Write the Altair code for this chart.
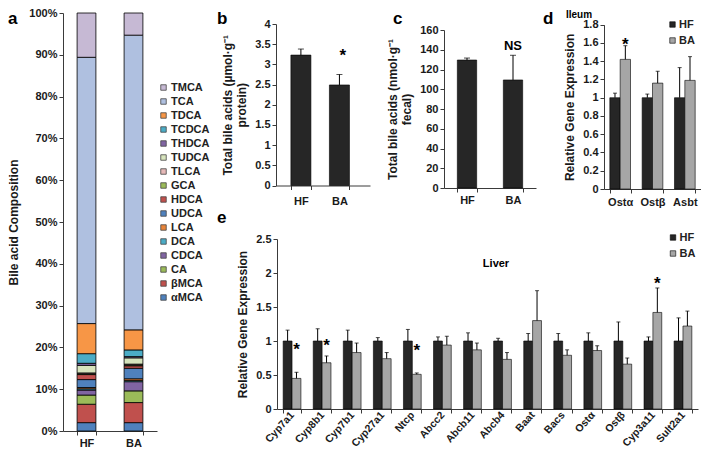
import altair as alt
import pandas as pd

FONT = "Liberation Sans"

# ---------------- data ----------------
diets = ["HF", "BA"]

# panel a: bile acid composition (%), stacked bottom -> top
acids = ["αMCA", "βMCA", "CA", "CDCA", "DCA", "LCA", "UDCA", "HDCA",
         "GCA", "TLCA", "TUDCA", "THDCA", "TCDCA", "TDCA", "TCA", "TMCA"]
acid_colors = ["#4F81BD", "#C0504D", "#9BBB59", "#8064A2", "#4BACC6", "#E8843A",
               "#4F81BD", "#C0504D", "#9BBB59", "#E6B9B8", "#D7E4BD", "#8064A2",
               "#4BACC6", "#F79646", "#AFC0E0", "#C6B9D4"]
hf_comp = [2.0, 4.4, 2.2, 1.2, 0.3, 0.3, 1.9, 1.2, 0.2, 0.2, 1.8, 0.5, 2.3, 7.2, 63.7, 10.6]
ba_comp = [2.0, 4.8, 2.8, 2.2, 0.3, 0.4, 2.5, 0.6, 0.2, 0.2, 1.5, 0.3, 1.6, 4.8, 70.5, 5.3]

# panel b: liver total bile acids
tba_liver = [3.23, 2.49]
tba_liver_err = [0.15, 0.26]
# panel c: fecal total bile acids
tba_fecal = [129.6, 109.4]
tba_fecal_err = [2.0, 25.0]

# panel d: ileum gene expression
ileum_genes = ["Ostα", "Ostβ", "Asbt"]
ileum_hf = [1.0, 1.0, 1.0]
ileum_hf_err = [0.05, 0.04, 0.33]
ileum_ba = [1.42, 1.16, 1.19]
ileum_ba_err = [0.15, 0.13, 0.26]

# panel e: liver gene expression
liver_genes = ["Cyp7a1", "Cyp8b1", "Cyp7b1", "Cyp27a1", "Ntcp", "Abcc2", "Abcb11",
               "Abcb4", "Baat", "Bacs", "Ostα", "Ostβ", "Cyp3a11", "Sult2a1"]
liver_hf = [1.0, 1.0, 1.0, 1.0, 1.0, 1.0, 1.0, 1.0, 1.0, 1.0, 1.0, 1.0, 1.0, 1.0]
liver_hf_err = [0.16, 0.18, 0.16, 0.05, 0.17, 0.06, 0.12, 0.04, 0.11, 0.11, 0.12, 0.28, 0.06, 0.34]
liver_ba = [0.45, 0.68, 0.83, 0.74, 0.51, 0.94, 0.87, 0.73, 1.30, 0.79, 0.86, 0.66, 1.42, 1.22]
liver_ba_err = [0.09, 0.10, 0.14, 0.09, 0.02, 0.13, 0.10, 0.10, 0.44, 0.08, 0.07, 0.09, 0.36, 0.22]

# significance marks
b_star = ["BA", "*", 3.31]
c_star = ["BA", "NS", 143.8]
d_star = ["Ostα", "*", 1.62]
e_star_genes = ["Cyp7a1", "Cyp8b1", "Ntcp", "Cyp3a11"]
e_star_y = [0.93, 0.99, 0.915, 1.90]

W, H = 693, 442
HF_COL, BA_COL = "#262626", "#A6A6A6"


def yaxis(x0, values, title, fmt="~g", **kw):
    return alt.Axis(orient="left", offset=-x0, values=values, format=fmt, title=title, **kw)


def xaxis(ybase, **kw):
    return alt.Axis(orient="bottom", offset=ybase - H, title=None, labelAngle=0,
                    tickBand="extent", **kw)


# ---------------- panel a ----------------
rows = []
for d, vals in zip(diets, [hf_comp, ba_comp]):
    for i, (a, v) in enumerate(zip(acids, vals)):
        rows.append({"diet": d, "acid": a, "idx": i, "pct": v})
dfa = pd.DataFrame(rows)
xa = alt.Scale(domain=diets, range=[55, 149], paddingInner=0.6, paddingOuter=0.3)
ya = alt.Scale(domain=[0, 100], range=[423, 5], nice=False, zero=True)
panel_a = alt.Chart(dfa).mark_bar(stroke="black", strokeWidth=0.8).encode(
    x=alt.X("diet:N", sort=diets, scale=xa, axis=xaxis(423, labelPadding=2)),
    y=alt.Y("pct:Q", stack="zero", scale=ya,
            axis=yaxis(55, list(range(0, 101, 10)), "Bile acid Composition",
                       labelExpr="datum.value + '%'", titlePadding=8)),
    color=alt.Color("acid:N", scale=alt.Scale(domain=acids[::-1], range=acid_colors[::-1]),
                    legend=alt.Legend(orient="none", legendX=150, legendY=74, title=None,
                                      symbolType="square", symbolSize=30,
                                      symbolStrokeColor="#444", symbolStrokeWidth=0.8,
                                      labelFont=FONT, labelFontSize=11, labelFontWeight="bold",
                                      labelColor="#222", rowPadding=2, labelOffset=2, padding=0)),
    order=alt.Order("idx:Q", sort="ascending"),
)


# ---------------- simple bar panels (b, c) ----------------
def simple_panel(vals, errs, xr, yr, ydom, yvals, title, star, fmt="~g", align=0.5,
                 pi=0.58, po=0.29, lab_pad=5, star_size=17):
    df = pd.DataFrame({"g": diets, "v": vals, "top": [v + e for v, e in zip(vals, errs)]})
    xs = alt.Scale(domain=diets, range=xr, paddingInner=pi, paddingOuter=po, align=align)
    ys = alt.Scale(domain=ydom, range=yr, nice=False)
    base = alt.Chart(df)
    bars = base.mark_bar(color=HF_COL, stroke="black", strokeWidth=0.6).encode(
        x=alt.X("g:N", sort=diets, scale=xs, axis=xaxis(yr[0], labelPadding=lab_pad)),
        y=alt.Y("v:Q", scale=ys, axis=yaxis(xr[0], yvals, title, fmt=fmt, titlePadding=6)),
    )
    rule = base.mark_rule(color="black", strokeWidth=1).encode(
        x=alt.X("g:N", sort=diets, scale=xs, axis=None),
        y=alt.Y("v:Q", scale=ys, axis=None), y2="top:Q")
    cap = base.mark_tick(color="black", thickness=1, size=6).encode(
        x=alt.X("g:N", sort=diets, scale=xs, axis=None),
        y=alt.Y("top:Q", scale=ys, axis=None))
    sdf = pd.DataFrame({"g": [star[0]], "t": [star[1]], "y": [star[2]]})
    txt = alt.Chart(sdf).mark_text(font=FONT, fontSize=star_size, fontWeight="bold",
                                   baseline="middle", dy=4 if star[1] == "*" else 0,
                                   color="black").encode(
        x=alt.X("g:N", sort=diets, scale=xs, axis=None),
        y=alt.Y("y:Q", scale=ys, axis=None), text="t:N")
    return [bars, rule, cap, txt]


panel_b = simple_panel(tba_liver, tba_liver_err, [268, 362], [177.5, 16], [0, 4],
                       [0, 0.5, 1, 1.5, 2, 2.5, 3, 3.5, 4],
                       ["Total bile acids (µmol·g⁻¹", "protein)"], b_star,
                       align=0.42, pi=0.48, po=0.46, lab_pad=6)
panel_c = simple_panel(tba_fecal, tba_fecal_err, [436, 528], [180, 22], [0, 160],
                       list(range(0, 161, 20)),
                       ["Total bile acids (nmol·g⁻¹", "fecal)"], c_star, fmt="d",
                       pi=0.58, po=0.29, lab_pad=2, star_size=13)


# ---------------- grouped panels (d, e) ----------------
def grouped_panel(genes, hf, hf_err, ba, ba_err, xr, yr, ydom, yvals, pi, lab_axis,
                  stars_g, stars_y, legend_xy):
    rows = []
    for g, a, ae, b, be in zip(genes, hf, hf_err, ba, ba_err):
        rows.append({"gene": g, "grp": "HF", "v": a, "top": a + ae})
        rows.append({"gene": g, "grp": "BA", "v": b, "top": b + be})
    df = pd.DataFrame(rows)
    xs = alt.Scale(domain=genes, range=xr, paddingInner=pi, paddingOuter=pi / 2)
    ys = alt.Scale(domain=ydom, range=yr, nice=False)
    os_ = alt.Scale(domain=diets)
    xo = alt.XOffset("grp:N", sort=diets, scale=os_)
    base = alt.Chart(df)
    bars = base.mark_bar(stroke="black", strokeWidth=0.6).encode(
        x=alt.X("gene:N", sort=genes, scale=xs, axis=lab_axis),
        xOffset=xo,
        y=alt.Y("v:Q", scale=ys, axis=yaxis(xr[0], yvals, "Relative Gene Expression",
                                           titlePadding=6)),
        color=alt.Color("grp:N", scale=alt.Scale(domain=diets, range=[HF_COL, BA_COL]),
                        legend=alt.Legend(orient="none", legendX=legend_xy[0],
                                          legendY=legend_xy[1], title=None,
                                          symbolType="square", symbolSize=30,
                                          symbolStrokeColor="black", symbolStrokeWidth=0.6,
                                          labelFont=FONT, labelFontSize=11,
                                          labelFontWeight="bold", labelColor="#222",
                                          rowPadding=legend_xy[2], labelOffset=1, padding=0)),
    )
    rule = base.mark_rule(color="black", strokeWidth=1).encode(
        x=alt.X("gene:N", sort=genes, scale=xs, axis=None), xOffset=xo,
        y=alt.Y("v:Q", scale=ys, axis=None), y2="top:Q")
    cap = base.mark_tick(color="black", thickness=1, size=4).encode(
        x=alt.X("gene:N", sort=genes, scale=xs, axis=None), xOffset=xo,
        y=alt.Y("top:Q", scale=ys, axis=None))
    sdf = pd.DataFrame({"gene": stars_g, "grp": ["BA"] * len(stars_g), "y": stars_y})
    txt = alt.Chart(sdf).mark_text(text="*", font=FONT, fontSize=17, fontWeight="bold",
                                   baseline="middle", dy=4, color="black").encode(
        x=alt.X("gene:N", sort=genes, scale=xs, axis=None), xOffset=xo,
        y=alt.Y("y:Q", scale=ys, axis=None))
    return [bars, rule, cap, txt]


panel_d = grouped_panel(ileum_genes, ileum_hf, ileum_hf_err, ileum_ba, ileum_ba_err,
                        [596, 693], [181, 16.7], [0, 1.8],
                        [0, 0.2, 0.4, 0.6, 0.8, 1, 1.2, 1.4, 1.6, 1.8], 0.36,
                        xaxis(181, labelPadding=3), [d_star[0]], [d_star[2]],
                        (659, 11, 4))
panel_e = grouped_panel(liver_genes, liver_hf, liver_hf_err, liver_ba, liver_ba_err,
                        [269, 690], [401, 231], [0, 2.5],
                        [0, 0.5, 1, 1.5, 2, 2.5], 0.41,
                        alt.Axis(orient="bottom", offset=401 - H, title=None, labelAngle=312,
                                 labelAlign="right", labelBaseline="middle", labelPadding=0,
                                 labelFontSize=10.5, tickBand="extent"),
                        e_star_genes, e_star_y, (659.5, 224, 4))


# ---------------- text annotations ----------------
def note(txt, x, y, size, align="left"):
    return alt.Chart(pd.DataFrame({"t": [txt]})).mark_text(
        font=FONT, fontSize=size, fontWeight="bold", align=align, baseline="alphabetic",
        color="black").encode(x=alt.value(x), y=alt.value(y), text="t:N")


notes = [
    note("a", 0, 16, 17),
    note("b", 209, 16, 17),
    note("c", 385, 16, 17),
    note("d", 535, 16, 17),
    note("e", 209, 215, 17),
    note("Ileum", 571, 10, 10, "center"),
    note("Liver", 488, 259, 11, "center"),
]

chart = alt.layer(panel_a, *panel_b, *panel_c, *panel_d, *panel_e, *notes).resolve_scale(
    x="independent", y="independent", color="independent", xOffset="independent"
).resolve_axis(x="independent", y="independent").resolve_legend(
    color="independent"
).properties(
    width=W, height=H, autosize=alt.AutoSizeParams(type="none"), padding=0
).configure_view(stroke=None).configure_axis(
    grid=False, domainColor="#3a3a3a", tickColor="#3a3a3a", tickSize=4, labelPadding=2,
    labelFont=FONT, labelFontSize=11, labelFontWeight="bold", labelColor="#1a1a1a",
    titleFont=FONT, titleFontSize=12, titleFontWeight="bold", titleColor="#1a1a1a",
    domainWidth=1, tickWidth=1,
)

chart.save("out.html", embed_options={"renderer": "svg", "actions": False})
